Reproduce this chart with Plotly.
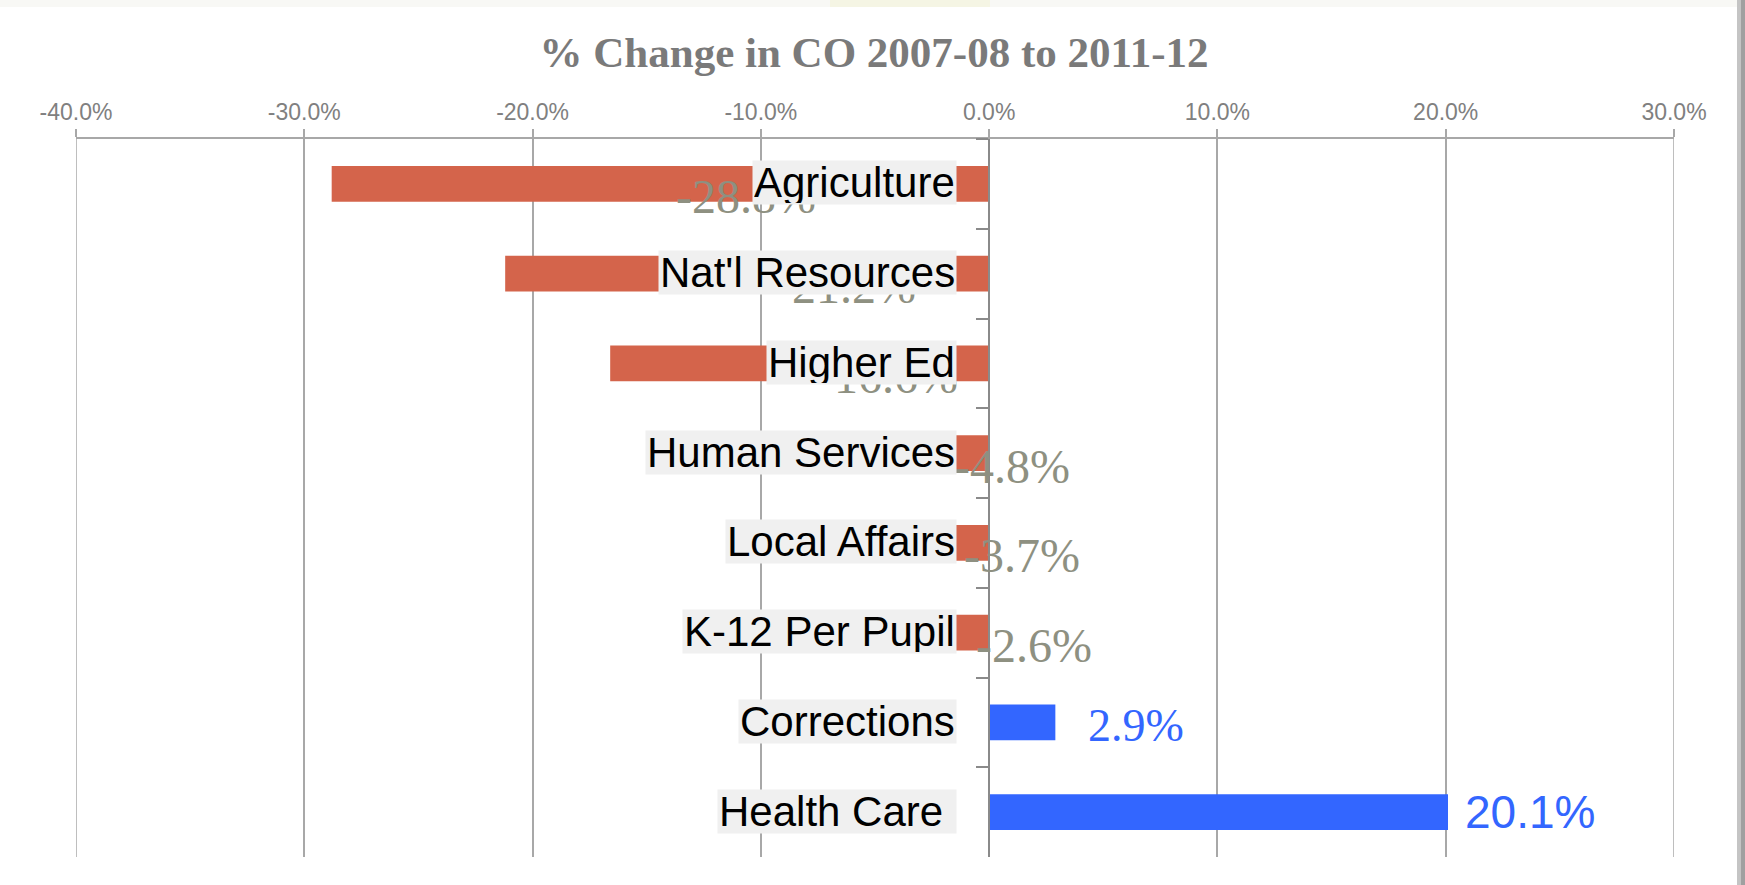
import plotly.graph_objects as go

# ---- data -------------------------------------------------------------
categories = [
    "Agriculture",
    "Nat'l Resources",
    "Higher Ed",
    "Human Services",
    "Local Affairs",
    "K-12 Per Pupil",
    "Corrections",
    "Health Care ",
]
pct_change = [-28.8, -21.2, -16.6, -4.8, -3.7, -2.6, 2.9, 20.1]
tick_values = [-40, -30, -20, -10, 0, 10, 20, 30]
tick_labels = [f"{v:.1f}%" for v in tick_values]
chart_title = "% Change in CO 2007-08 to 2011-12"

# ---- styling ----------------------------------------------------------
W, H = 1745, 885
ML, MR, MT, MB = 76, 71, 139, 28
X_MIN, X_MAX = tick_values[0], tick_values[-1]

RED = "#d4644b"
BLUE = "#3366ff"
NEG_LABEL = "#8e9081"
GRID = "#a8a8a8"
AXIS = "#8a8a8a"
SANS = "Liberation Sans, Arial, sans-serif"
SERIF = "Liberation Serif, Times New Roman, serif"

# horizontal / vertical pixel nudges for the value labels (from bar midpoint)
label_xshift = [86, 99, 88, 78, 75, 75, 114, 311]
label_yshift = [-13, -13, -13, -13, -13, -13, -3, 0]
label_font = [SERIF] * 7 + [SANS]
label_size = [48] * 6 + [46, 46]

bar_colors = [RED if v < 0 else BLUE for v in pct_change]


def px_x(px):
    return (px - ML) / (W - ML - MR)


def px_y(py):
    return (H - MB - py) / (H - MT - MB)


fig = go.Figure(
    go.Bar(
        x=pct_change,
        y=categories,
        orientation="h",
        marker=dict(color=bar_colors, line=dict(width=0)),
        hoverinfo="x+y",
    )
)

annotations = []

# value labels (drawn underneath the category boxes)
for cat, v, dx, dy, fam, sz in zip(categories, pct_change, label_xshift,
                                   label_yshift, label_font, label_size):
    annotations.append(dict(
        x=v / 2, y=cat, xref="x", yref="y",
        text=f"{v:.1f}%", showarrow=False,
        xanchor="center", yanchor="middle",
        xshift=dx, yshift=dy,
        font=dict(family=fam, size=sz, color=NEG_LABEL if v < 0 else BLUE),
    ))

# category labels in light boxes, right-aligned just left of the zero line
for cat in categories:
    stripped = cat.rstrip(" ")
    text = stripped + "\u00a0" * (len(cat) - len(stripped))
    annotations.append(dict(
        x=0, y=cat, xref="x", yref="y",
        text=text, showarrow=False,
        xanchor="right", yanchor="middle",
        xshift=-32, yshift=1,
        bgcolor="#f0f0f0", borderpad=1, height=41,
        font=dict(family=SANS, size=42, color="#000000"),
    ))

shapes = [
    # gridlines at both ends of the value range
    dict(type="line", xref="x", yref="paper",
         x0=X_MIN, x1=X_MIN, y0=0, y1=1,
         line=dict(color=GRID, width=1.5), layer="below"),
    dict(type="line", xref="x", yref="paper",
         x0=X_MAX, x1=X_MAX, y0=0, y1=1,
         line=dict(color=GRID, width=1.5), layer="below"),
    # page decoration: faint strip along the top and a shadow on the right edge
    dict(type="rect", xref="paper", yref="paper",
         x0=px_x(0), x1=px_x(W), y0=px_y(7), y1=px_y(0),
         fillcolor="#f8f8f5", line=dict(width=0), layer="below"),
    dict(type="rect", xref="paper", yref="paper",
         x0=px_x(830), x1=px_x(990), y0=px_y(7), y1=px_y(0),
         fillcolor="#f5f5e4", line=dict(width=0), layer="below"),
    dict(type="rect", xref="paper", yref="paper",
         x0=px_x(1737), x1=px_x(1741), y0=px_y(H), y1=px_y(0),
         fillcolor="#c4c4c4", line=dict(width=0), layer="below"),
    dict(type="rect", xref="paper", yref="paper",
         x0=px_x(1741), x1=px_x(W), y0=px_y(H), y1=px_y(0),
         fillcolor="#a0a0a0", line=dict(width=0), layer="below"),
]

fig.update_layout(
    width=W, height=H,
    margin=dict(l=ML, r=MR, t=MT, b=MB, pad=0),
    paper_bgcolor="#ffffff",
    plot_bgcolor="#ffffff",
    showlegend=False,
    bargap=0.6,
    title=dict(
        text=f"<b>{chart_title}</b>",
        x=px_x(874), xref="paper", xanchor="center",
        y=1 - 52 / H, yref="container", yanchor="middle",
        font=dict(family=SERIF, size=43, color="#7a7a7a"),
    ),
    xaxis=dict(
        side="top",
        range=[X_MIN, X_MAX],
        tickmode="array",
        tickvals=tick_values,
        ticktext=tick_labels,
        tickfont=dict(family=SANS, size=23, color="#808080"),
        showgrid=True, gridcolor=GRID, gridwidth=1.5,
        showline=True, linecolor=GRID, linewidth=2,
        ticks="outside", ticklen=8, tickcolor=GRID, tickwidth=1.5,
        zeroline=False,
        fixedrange=True,
    ),
    yaxis=dict(
        type="category",
        categoryorder="array",
        categoryarray=categories,
        autorange="reversed",
        anchor="free",
        position=(0 - X_MIN) / (X_MAX - X_MIN),
        showline=True, linecolor=AXIS, linewidth=2,
        ticks="outside", tickson="boundaries", ticklen=12,
        tickcolor=AXIS, tickwidth=2,
        showticklabels=False,
        showgrid=False, zeroline=False,
        fixedrange=True,
    ),
    annotations=annotations,
    shapes=shapes,
)

fig.write_html("out.html", config={"displayModeBar": False})
